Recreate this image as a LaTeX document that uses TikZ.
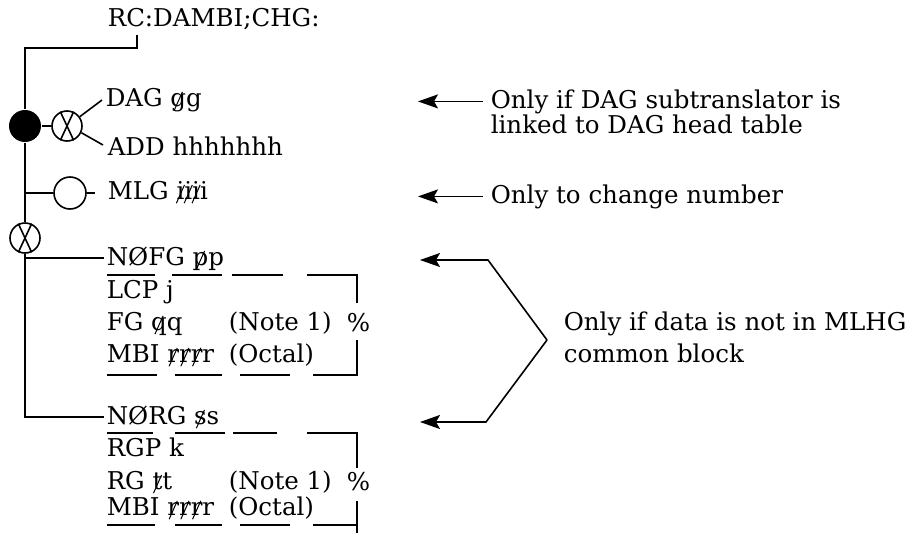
\documentclass[tikz,border=0pt]{standalone}
\usepackage{fontspec}
\setmainfont{DejaVu Serif}
\usetikzlibrary{arrows.meta}
\newcommand{\stk}[1]{\ooalign{#1\cr\hidewidth\raisebox{-4pt}{\rotatebox{-24}{\rule{1pt}{20pt}}}\hidewidth\cr}}
\begin{document}
\begin{tikzpicture}[x=1pt,y=-1pt,line width=1.6pt,
  lbl/.style={inner sep=0pt,anchor=base west,font=\fontsize{24.5}{29}\selectfont},
  xcirc/.style={circle,draw,minimum size=30pt,inner sep=0pt},
  arr/.style={-{Stealth[length=20pt,width=14pt,inset=4pt]}}]
\useasboundingbox (0,0) rectangle (923,533);
% texts
\node[lbl] (rc) at (107,26) {RC:DAMBI;CHG:};
\node[lbl] (dag) at (105,106) {DAG \stk{g}g};
\node[lbl] (add) at (107,155) {ADD hhhhhhh};
\node[lbl] (mlg) at (107,199) {MLG \stk{i}\stk{i}\stk{i}i};
\node[lbl] (nofg) at (106,265) {NØFG \stk{p}p};
\node[lbl] (lcp) at (106,298) {LCP j};
\node[lbl] (fg) at (106,330) {FG \stk{q}q};
\node[lbl] (mbia) at (106,362) {MBI \stk{r}\stk{r}\stk{r}r};
\node[lbl] (notea) at (228,330) {(Note 1)};
\node[lbl] (octa) at (228,362) {(Octal)};
\node[lbl] (pcta) at (346,331) {\%};
\node[lbl] (norg) at (106,424) {NØRG \stk{s}s};
\node[lbl] (rgp) at (106,456) {RGP k};
\node[lbl] (rg) at (106,489) {RG \stk{t}t};
\node[lbl] (mbib) at (106,515) {MBI \stk{r}\stk{r}\stk{r}r};
\node[lbl] (noteb) at (228,489) {(Note 1)};
\node[lbl] (octb) at (228,515) {(Octal)};
\node[lbl] (pctb) at (346,490) {\%};
\node[lbl] (n1a) at (490,108) {Only if DAG subtranslator is};
\node[lbl] (n1b) at (490,133) {linked to DAG head table};
\node[lbl] (n2) at (490,203) {Only to change number};
\node[lbl] (n3a) at (563,330) {Only if data is not in MLHG};
\node[lbl] (n3b) at (563,362) {common block};
% circles
\node[circle,fill,minimum size=32pt,inner sep=0pt] (fc) at (25,126) {};
\node[xcirc] (x1) at (67,126) {};
\draw (x1.115) -- (x1.-65); \draw (x1.65) -- (x1.-115);
\node[xcirc,minimum size=32pt] (c1) at (70,193) {};
\node[xcirc] (x2) at (25,238) {};
\draw (x2.115) -- (x2.-65); \draw (x2.65) -- (x2.-115);
% connectors
\draw ([shift={(30,9)}]rc.base west) -- ++(0,13) -| (fc.north);
\draw (fc.east) -- (x1.west);
\draw (x1.36) -- ([shift={(-3,-6)}]dag.base west);
\draw (x1.-25) -- ([shift={(-4,-10)}]add.base west);
\draw (fc.south) -- (x2.north);
\draw (fc.south |- c1.west) -- (c1.west);
\coordinate (c1tail) at (95,193);
\draw (c1.east) -- (c1tail);
\draw (x2.south |- nofg.west) -- ([xshift=-2pt]nofg.west);
\draw (x2.south) |- ([xshift=-2pt]norg.west);
% dashed brackets, block 1
\draw (107,275) -- (155,275) (172,275) -- (222,275) (232,275) -- (283,275);
\draw (307,275) -- (357,275) -- (357,303);
\draw (357,340) -- (357,375) -- (313,375);
\draw (107,375) -- (157,375) (175,375) -- (222,375) (240,375) -- (290,375);
% block 2
\draw (107,433) -- (153,433) (175,433) -- (225,433) (233,433) -- (277,433);
\draw (307,433) -- (357,433) -- (357,468);
\draw (357,501) -- (357,533);
\draw (107,525) -- (155,525) (175,525) -- (222,525) (240,525) -- (290,525) (313,525) -- (357,525);
% arrows
\coordinate (t1) at (418,0);
\coordinate (t2) at (418,0);
\draw[arr] ([xshift=-7pt]n1a.west) -- (t1 |- n1a.west);
\draw[arr] ([xshift=-7pt]n2.west) -- (t2 |- n2.west);
\coordinate (apex) at (547,340);
\coordinate (t3) at (420,260);
\coordinate (t4) at (420,422);
\draw[arr] (apex) -- (488,260) -- (t3);
\draw[arr] (apex) -- (486,422) -- (t4);
\end{tikzpicture}
\end{document}
